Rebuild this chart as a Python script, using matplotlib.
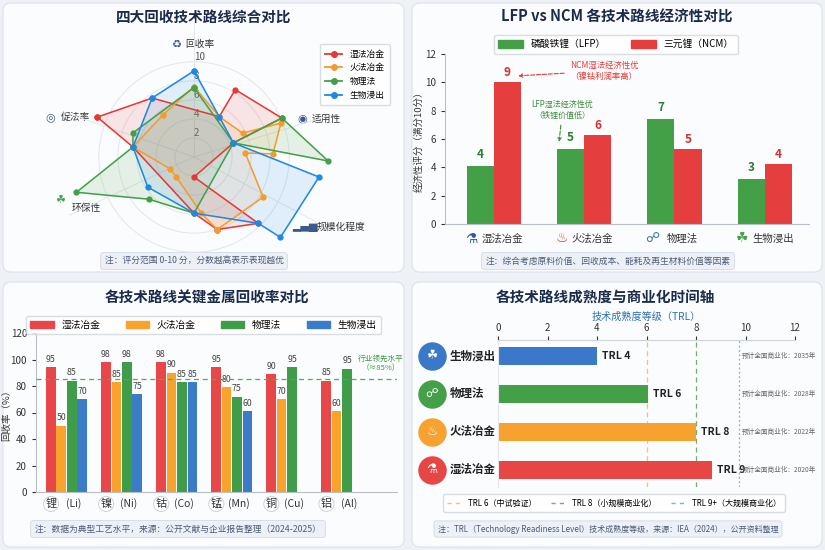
import numpy as np
import matplotlib
matplotlib.use("Agg")
import matplotlib.pyplot as plt
import matplotlib.transforms as mtransforms
from matplotlib.patches import FancyBboxPatch, Patch
from matplotlib.lines import Line2D

plt.rcParams["font.family"] = ["Noto Sans CJK SC", "DejaVu Sans"]
plt.rcParams["axes.unicode_minus"] = False

# ---------------- data ----------------
routes = ["湿法冶金", "火法冶金", "物理法", "生物浸出"]

# radar: polygon vertices (angle in deg, score)
wet_ang = [157.6, 125.4, 58, 58.5, 23.9, 19.7, -90, -45.9, -72.3, -90, 170.7]
wet_val = [11.0, 7.6, 5.0, 8.3, 10.1, 4.4, 2.1, 9.7, 8.0, 5.9, 6.5]
fire_ang = [90, 58, 26.1, 21.3, 2.2, 4.5, -30.1, -72.3, -82.9, -132, -153.4, 170.7, 126.4]
fire_val = [7.4, 5.0, 5.7, 9.8, 8.3, 5.4, 8.4, 8.0, 5.9, 2.8, 2.8, 6.5, 5.5]
phys_ang = [90, 19.7, 23.9, -1.7, 19.7, -90, -137, -163.3, 170.7, 158.5]
phys_val = [7.3, 4.4, 10.1, 14.1, 4.4, 5.9, 6.5, 12.9, 6.5, 6.9]
bio_ang = [90, 58, 19.7, -9.1, -42.9, -45.9, -90, -146.9, 170.7, 125.4]
bio_val = [9.05, 5.0, 4.4, 13.3, 12.4, 9.7, 5.9, 5.8, 6.5, 7.6]
radar_rticks = [2, 4, 6, 8, 10]

# economics LFP vs NCM
econ_lfp = [4.1, 5.3, 7.4, 3.2]
econ_ncm = [10.0, 6.3, 5.3, 4.25]
econ_lfp_lab = ["4", "5", "7", "3"]
econ_ncm_lab = ["9", "6", "5", "4"]

# metal recovery rates
metals = ["锂", "镍", "钴", "锰", "铜", "铝"]
metal_sym = ["(Li)", "(Ni)", "(Co)", "(Mn)", "(Cu)", "(Al)"]
rec_wet = [94, 98, 98, 94, 89, 84]
rec_fire = [50, 83, 90, 79, 70, 61]
rec_phys = [84, 98, 83, 72, 94, 93]
rec_bio = [70, 74, 83, 61, np.nan, np.nan]
lab_wet = ["95", "98", "98", "95", "90", "85"]
lab_fire = ["50", "85", "90", "80", "70", "60"]
lab_phys = ["85", "98", "85", "75", "95", "95"]
lab_bio = ["70", "75", "85", "60", "", ""]
lead_level = 85

# TRL timeline (bottom to top)
trl_routes = ["湿法冶金", "火法冶金", "物理法", "生物浸出"]
trl_vals = [8.65, 8.0, 6.05, 4.0]
trl_labels = ["TRL 9", "TRL 8", "TRL 6", "TRL 4"]
trl_years = ["2020年", "2022年", "2028年", "2035年"]
trl_marks = [6, 8, 9.75]
trl_mark_labels = ["TRL 6（中试验证）", "TRL 8（小规模商业化）", "TRL 9+（大规模商业化）"]

# ---------------- style ----------------
W, H = 825, 550
BG = "#eef1f5"
CARD = "#fbfcfd"
CARD_EDGE = "#dde2e9"
TITLE = "#1b2b4b"
NOTE_TXT = "#4b5b78"
NOTE_BG = "#edf1f7"
NOTE_EDGE = "#d3dae4"
AX_EDGE = "#b9bfc8"
TXT = "#333333"
RED = "#e8474a"
ORANGE = "#f7a32e"
GREEN = "#3f9c49"
BLUE = "#3a7cc8"
ROUTE_COLORS = [RED, ORANGE, GREEN, BLUE]


def px_rect(l, t, r, b):
    return [l / W, 1 - b / H, (r - l) / W, (b - t) / H]


fig = plt.figure(figsize=(W / 100, H / 100), dpi=100, facecolor=BG)

# background layer in pixel coordinates
bg = fig.add_axes([0, 0, 1, 1])
bg.set_xlim(0, W)
bg.set_ylim(H, 0)
bg.axis("off")


def card(l, t, r, b):
    bg.add_patch(FancyBboxPatch((l, t), r - l, b - t,
                                boxstyle="round,pad=0,rounding_size=8",
                                fc=CARD, ec=CARD_EDGE, lw=0.8))


def note(x, y, s, fs=6.3):
    bg.text(x, y, s, ha="center", va="center", fontsize=fs, color=NOTE_TXT,
            bbox=dict(boxstyle="round,pad=0.45,rounding_size=0.3",
                      fc=NOTE_BG, ec=NOTE_EDGE, lw=0.6))


def title(x, y, s):
    bg.text(x, y, s, ha="center", va="center", fontsize=10.5,
            fontweight="bold", color=TITLE)


card(3, 3, 404, 272)
card(412, 3, 822, 272)
card(3, 282, 404, 547)
card(412, 282, 822, 547)

# ================= panel 1: radar =================
title(204, 17, "四大回收技术路线综合对比")
ax1 = fig.add_axes(px_rect(56, 19, 332, 295), projection="polar")
ax1.patch.set_alpha(0)
series = [(wet_ang, wet_val), (fire_ang, fire_val),
          (phys_ang, phys_val), (bio_ang, bio_val)]
handles = []
for (ang, val), col, name in zip(series, ["#e53935", "#f59b2c", "#43a047", "#1e88e5"], routes):
    th = np.deg2rad(ang + ang[:1])
    rr = val + val[:1]
    ax1.fill(th, rr, color=col, alpha=0.12, zorder=2)
    ax1.plot(th, rr, color=col, lw=1.1, marker="o", ms=3.5, zorder=3)
    handles.append(Line2D([], [], color=col, lw=1.3, marker="o", ms=4, label=name))
ax1.set_ylim(0, 14.5)
ax1.set_rgrids(radar_rticks, labels=[str(t) for t in radar_rticks], angle=90,
               fontsize=7, color="#555555")
ax1.set_thetagrids([90, 17, 332, 205, 161], labels=[""] * 5)
ax1.grid(color="#e3e6ea", lw=0.7)
ax1.spines["polar"].set_visible(False)
ax1.legend(handles=handles, loc="upper right", bbox_to_anchor=(394 / W, 1 - 40 / H),
           bbox_transform=fig.transFigure, fontsize=6.3, frameon=True,
           edgecolor="#d0d5dc", fancybox=True, handlelength=2.0,
           labelspacing=0.55, borderpad=0.6)

axis_labels = [(176, 44, "♻", 185, "回收率", "#3b5b8c"),
               (302, 119, "◉", 312, "适用性", "#3b5b8c"),
               (305, 227, "▂▄▆", 317, "规模化程度", "#3b5b8c"),
               (60, 200, "☘", 72, "环保性", "#43a047"),
               (50, 117, "◎", 61, "促法率", "#3b5b8c")]
for ix, iy, icon, tx, lab, icol in axis_labels:
    bg.text(ix, iy, icon, ha="center", va="center", fontsize=8, color=icol,
            family=["DejaVu Sans"])
    bg.text(tx, iy + (8 if lab == "环保性" else 0), lab, ha="left", va="center",
            fontsize=7, color=TXT)
note(194, 261, "注：评分范围 0-10 分，分数越高表示表现越优")

# ================= panel 2: LFP vs NCM =================
title(617, 17, "LFP vs NCM 各技术路线经济性对比")
ax2 = fig.add_axes(px_rect(445, 54, 809, 224))
ax2.patch.set_alpha(0)
x = np.arange(len(routes))
bw = 0.3
ax2.bar(x - bw / 2, econ_lfp, bw, color="#43a047", zorder=2)
ax2.bar(x + bw / 2, econ_ncm, bw, color="#e53e3e", zorder=2)
for xi, v, s in zip(x, econ_lfp, econ_lfp_lab):
    ax2.text(xi - bw / 2, v + 0.35, s, ha="center", va="bottom", fontsize=8.5,
             fontweight="bold", color="#2e7d32")
for xi, v, s in zip(x, econ_ncm, econ_ncm_lab):
    ax2.text(xi + bw / 2, v + 0.2, s, ha="center", va="bottom", fontsize=8.5,
             fontweight="bold", color="#d32f2f")
ax2.set_xlim(-0.54, 3.49)
ax2.set_ylim(0, 12)
ax2.set_yticks(range(0, 13, 2))
ax2.set_xticks([])
ax2.tick_params(axis="y", labelsize=7, colors=TXT, length=3)
for side in ["top", "right"]:
    ax2.spines[side].set_visible(False)
for side in ["left", "bottom"]:
    ax2.spines[side].set_color(AX_EDGE)
ax2.set_ylabel("经济性评分（满分10分）", fontsize=6.8, color=TXT)
ax2.yaxis.set_label_coords(-0.058, 0.5)
tr2 = mtransforms.blended_transform_factory(ax2.transData, ax2.transAxes)
icons2 = ["⚗", "♨", "☍", "☘"]
icol2 = ["#2d5aa0", "#e53935", "#3a6db5", "#43a047"]
for xi, name, ic, icc in zip(x, routes, icons2, icol2):
    ax2.text(xi - 0.25, -0.085, ic, transform=tr2, ha="center", va="center",
             fontsize=10, color=icc, family=["DejaVu Sans"])
    ax2.text(xi + 0.09, -0.085, name, transform=tr2, ha="center", va="center",
             fontsize=7.5, color=TXT)
ax2.annotate("NCM湿法经济性优\n（镍钴利润率高）", xy=(0.24, 10.45), xytext=(1.22, 10.8),
             ha="center", va="center", fontsize=6, color="#e53935",
             arrowprops=dict(arrowstyle="->", color="#e53935", ls="--", lw=0.8))
ax2.annotate("LFP湿法经济性优\n（铁锂价值低）", xy=(0.72, 5.6), xytext=(0.76, 8.05),
             ha="center", va="center", fontsize=5.8, color="#388e3c",
             arrowprops=dict(arrowstyle="->", color="#388e3c", ls="--", lw=0.8))
ax2.legend(handles=[Patch(color="#43a047", label="磷酸铁锂（LFP）"),
                    Patch(color="#e53e3e", label="三元锂（NCM）")],
           loc="upper center", bbox_to_anchor=(616 / W, 1 - 30 / H),
           bbox_transform=fig.transFigure, ncol=2, fontsize=7, frameon=True,
           edgecolor="#d0d5dc", handlelength=2.6, handleheight=0.8,
           columnspacing=2.5, borderpad=0.45)
note(608, 261, "注：综合考虑原料价值、回收成本、能耗及再生材料价值等因素")

# ================= panel 3: metal recovery =================
title(207, 298, "各技术路线关键金属回收率对比")
ax3 = fig.add_axes(px_rect(36, 333, 397, 492))
ax3.patch.set_alpha(0)
xm = np.arange(len(metals))
bw3 = 0.19
rec_sets = [(rec_wet, lab_wet), (rec_fire, lab_fire), (rec_phys, lab_phys), (rec_bio, lab_bio)]
for k, ((vals, labs), col) in enumerate(zip(rec_sets, ROUTE_COLORS)):
    xs = xm + (k - 1.5) * bw3
    ax3.bar(xs, vals, bw3 * 0.92, color=col, zorder=2)
    for xi, v, s in zip(xs, vals, labs):
        if s:
            ax3.text(xi, v + 2.5, s, ha="center", va="bottom", fontsize=6.3, color="#444444")
ax3.axhline(lead_level, color="#4caf50", ls=(0, (4, 3)), lw=0.9, zorder=3)
ax3.text(5.71, 97, "行业领先水平\n（≈85%）", ha="center", va="center",
         fontsize=5.5, color="#3d9a48")
ax3.set_xlim(-0.553, 6.0)
ax3.set_ylim(0, 120)
ax3.set_yticks(range(0, 121, 20))
ax3.set_xticks([])
ax3.tick_params(axis="y", labelsize=7, colors=TXT, length=3)
for side in ["top", "right"]:
    ax3.spines[side].set_visible(False)
for side in ["left", "bottom"]:
    ax3.spines[side].set_color(AX_EDGE)
ax3.set_ylabel("回收率（%）", fontsize=6.8, color=TXT)
ax3.yaxis.set_label_coords(-0.068, 0.5)
tr3 = mtransforms.blended_transform_factory(ax3.transData, ax3.transAxes)
for xi, m, s in zip(xm, metals, metal_sym):
    ax3.text(xi - 0.28, -0.075, m, transform=tr3, ha="center", va="center",
             fontsize=8, color=TXT,
             bbox=dict(boxstyle="circle,pad=0.18", fc="white", ec="#c8ccd2", lw=0.6))
    ax3.text(xi + 0.13, -0.075, s, transform=tr3, ha="center", va="center",
             fontsize=7.5, color=TXT)
ax3.legend(handles=[Patch(color=c, label=r) for c, r in zip(ROUTE_COLORS, routes)],
           loc="upper center", bbox_to_anchor=(203.5 / W, 1 - 311 / H),
           bbox_transform=fig.transFigure, ncol=4, fontsize=7, frameon=True,
           edgecolor="#d0d5dc", handlelength=2.4, handleheight=0.8,
           columnspacing=2.6, borderpad=0.4)
note(178, 529, "注：数据为典型工艺水平，来源：公开文献与企业报告整理（2024-2025）")

# ================= panel 4: TRL timeline =================
title(605, 297, "各技术路线成熟度与商业化时间轴")
ax4 = fig.add_axes(px_rect(498, 340, 795, 487))
ax4.patch.set_alpha(0)
yy = np.arange(len(trl_routes))
trl_colors = ["#e84545", "#f7a12f", "#43a047", "#3a78c9"]
ax4.barh(yy, trl_vals, height=0.48, color=trl_colors, zorder=2)
mark_cols = ["#f2c46d", "#6fae6f", "#7fb0e0"]
mark_ls = [(0, (4, 3)), (0, (4, 3)), (0, (1.5, 2))]
for v, c, ls in zip(trl_marks, mark_cols, mark_ls):
    ax4.axvline(v, color=c, ls=ls, lw=0.9, zorder=1)
for yi, v, s, yr in zip(yy, trl_vals, trl_labels, trl_years):
    ax4.text(v + 0.2, yi, s, ha="left", va="center", fontsize=7.5,
             fontweight="bold", color="#222222")
    ax4.text(9.86, yi, "预计全面商业化：" + yr, ha="left", va="center",
             fontsize=4.8, color="#666666", clip_on=False)
icons4 = ["⚗", "♨", "☍", "☘"]
for yi, name, c, ic in zip(yy, trl_routes, trl_colors, icons4):
    ax4.scatter([-2.67], [yi], s=380, color=c, clip_on=False, zorder=4)
    ax4.text(-2.67, yi, ic, ha="center", va="center", fontsize=9, color="white",
             family=["DejaVu Sans"], zorder=5, clip_on=False)
    ax4.text(-1.94, yi, name, ha="left", va="center", fontsize=8.3,
             fontweight="bold", color="#222222", clip_on=False)
ax4.set_xlim(0, 12)
ax4.set_ylim(-0.45, 3.42)
ax4.xaxis.tick_top()
ax4.xaxis.set_label_position("top")
ax4.set_xticks(range(0, 13, 2))
ax4.set_yticks([])
ax4.tick_params(axis="x", labelsize=7, colors=TXT, length=3, pad=2)
ax4.set_xlabel("技术成熟度等级（TRL）", fontsize=7.3, color="#2a6fb5", labelpad=2)
for side in ["bottom", "right"]:
    ax4.spines[side].set_visible(False)
ax4.spines["top"].set_color("#cfd4db")
ax4.spines["left"].set_color("#e3e6ea")
ax4.legend(handles=[Line2D([], [], color=c, ls=ls, lw=1, label=l)
                    for c, ls, l in zip(mark_cols, [(0, (3, 3))] * 3, trl_mark_labels)],
           loc="center", bbox_to_anchor=(614 / W, 1 - 503 / H),
           bbox_transform=fig.transFigure, ncol=3, fontsize=5.8, frameon=True,
           edgecolor="#d0d5dc", handlelength=1.8, columnspacing=1.8, borderpad=0.5)
note(608, 529, "注：TRL（Technology Readiness Level）技术成熟度等级，来源：IEA（2024），公开资料整理",
     fs=5.8)

fig.savefig("out.png", dpi=100, facecolor=BG)
